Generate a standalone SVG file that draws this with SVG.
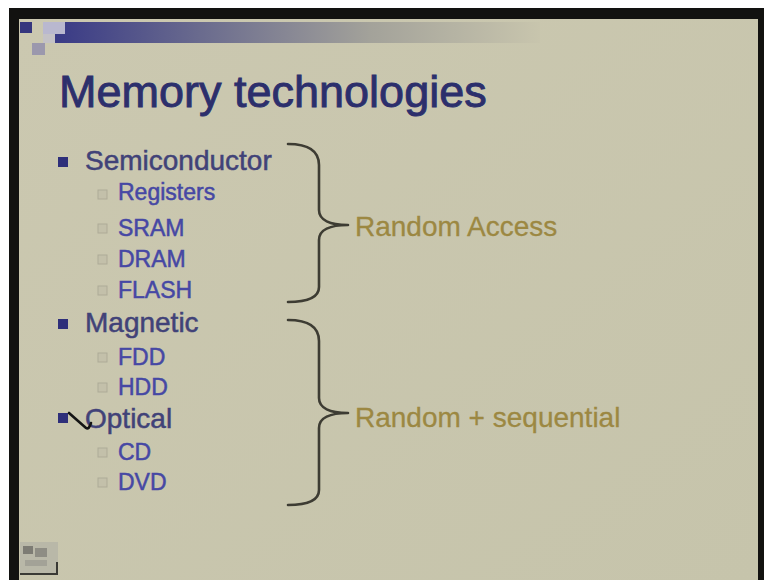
<svg xmlns="http://www.w3.org/2000/svg" width="764" height="580" viewBox="0 0 764 580">
  <defs>
    <linearGradient id="barGrad" x1="55" y1="0" x2="540" y2="0" gradientUnits="userSpaceOnUse">
      <stop offset="0" stop-color="#393a86"/>
      <stop offset="0.3" stop-color="#6a6b8e"/>
      <stop offset="0.65" stop-color="#a3a29a"/>
      <stop offset="1" stop-color="#c8c5ad"/>
    </linearGradient>
    <linearGradient id="bgGrad" x1="0" y1="0" x2="1" y2="1">
      <stop offset="0" stop-color="#cbc8b0"/>
      <stop offset="1" stop-color="#c6c4ab"/>
    </linearGradient>
  </defs>
  <style>
    .title { font-family: "Liberation Sans", Arial, sans-serif; font-size: 45px; fill: #2c2f6c; stroke: #2c2f6c; stroke-width: 0.9; }
    .main { font-family: "Liberation Sans", Arial, sans-serif; font-size: 28px; fill: #414278; stroke: #414278; stroke-width: 0.5; }
    .sub { font-family: "Liberation Sans", Arial, sans-serif; font-size: 23px; fill: #4648a4; stroke: #4648a4; stroke-width: 0.5; }
    .label { font-family: "Liberation Sans", Arial, sans-serif; font-size: 28px; fill: #9c8842; stroke: #9c8842; stroke-width: 0.3; }
    .bullet { fill: #2e2f7a; }
    .hollow { fill: #c3c0aa; stroke: #aeab97; stroke-width: 1; }
    .brace { fill: none; stroke: #3d3c33; stroke-width: 2.6; stroke-linecap: round; stroke-linejoin: round; }
  </style>

  <!-- frame -->
  <rect x="0" y="0" width="764" height="580" fill="#ffffff"/>
  <rect x="9" y="8" width="755" height="572" fill="#121210"/>
  <rect x="19" y="19" width="739" height="561" fill="url(#bgGrad)"/>

  <!-- header decoration -->
  <g id="header">
    <rect x="55" y="22" width="485" height="21" fill="url(#barGrad)"/>
    <rect x="20" y="22" width="12" height="11" fill="#35367e"/>
    <rect x="43" y="22" width="22" height="12" fill="#b9b8cf"/>
    <rect x="43" y="34" width="12" height="9" fill="#c4c2c6"/>
    <rect x="32" y="43" width="13" height="12" fill="#9b98ad"/>
  </g>

  <g id="title">
    <text class="title" x="59" y="107">Memory technologies</text>
  </g>

  <g id="semiconductor">
    <rect class="bullet" x="58" y="157" width="10" height="10"/>
    <text class="main" x="85" y="170">Semiconductor</text>
    <rect class="hollow" x="98" y="190" width="9" height="9"/>
    <text class="sub" x="118" y="200">Registers</text>
    <rect class="hollow" x="98" y="224" width="9" height="9"/>
    <text class="sub" x="118" y="236">SRAM</text>
    <rect class="hollow" x="98" y="255" width="9" height="9"/>
    <text class="sub" x="118" y="267">DRAM</text>
    <rect class="hollow" x="98" y="286" width="9" height="9"/>
    <text class="sub" x="118" y="298">FLASH</text>
  </g>

  <g id="magnetic">
    <rect class="bullet" x="58" y="319" width="10" height="10"/>
    <text class="main" x="85" y="332">Magnetic</text>
    <rect class="hollow" x="98" y="353" width="9" height="9"/>
    <text class="sub" x="118" y="365">FDD</text>
    <rect class="hollow" x="98" y="383" width="9" height="9"/>
    <text class="sub" x="118" y="395">HDD</text>
  </g>

  <g id="optical">
    <rect class="bullet" x="58" y="413" width="10" height="10"/>
    <text class="main" x="85" y="428">Optical</text>
    <path d="M69,413 L86,428 Q89,430 91,423" fill="none" stroke="#141414" stroke-width="2.6" stroke-linecap="round"/>
    <rect class="hollow" x="98" y="448" width="9" height="9"/>
    <text class="sub" x="118" y="460">CD</text>
    <rect class="hollow" x="98" y="478" width="9" height="9"/>
    <text class="sub" x="118" y="490">DVD</text>
  </g>

  <g id="connectors">
    <path class="brace" d="M288,144 C308,144 319,150 319,165 L319,210 C319,220 330,225 348,225 C330,225 319,230 319,240 L319,287 C319,297 308,302 288,302"/>
    <path class="brace" d="M288,320 C308,320 319,326 319,341 L319,398 C319,408 330,413 348,413 C330,413 319,418 319,428 L319,490 C319,500 308,505 288,505"/>
  </g>

  <g id="random-access">
    <text class="label" x="355" y="236">Random Access</text>
  </g>
  <g id="random-sequential">
    <text class="label" x="355" y="427">Random + sequential</text>
  </g>

  <g id="footer-icon">
    <rect x="20" y="542" width="38" height="33" fill="#b9b8a8"/>
    <rect x="23" y="546" width="10" height="8" fill="#7d7c74"/>
    <rect x="35" y="548" width="12" height="9" fill="#8e8d84"/>
    <rect x="25" y="560" width="22" height="6" fill="#a3a297"/>
    <path d="M20,574 L57,574 L57,562" fill="none" stroke="#3a3a35" stroke-width="2"/>
  </g>
</svg>
